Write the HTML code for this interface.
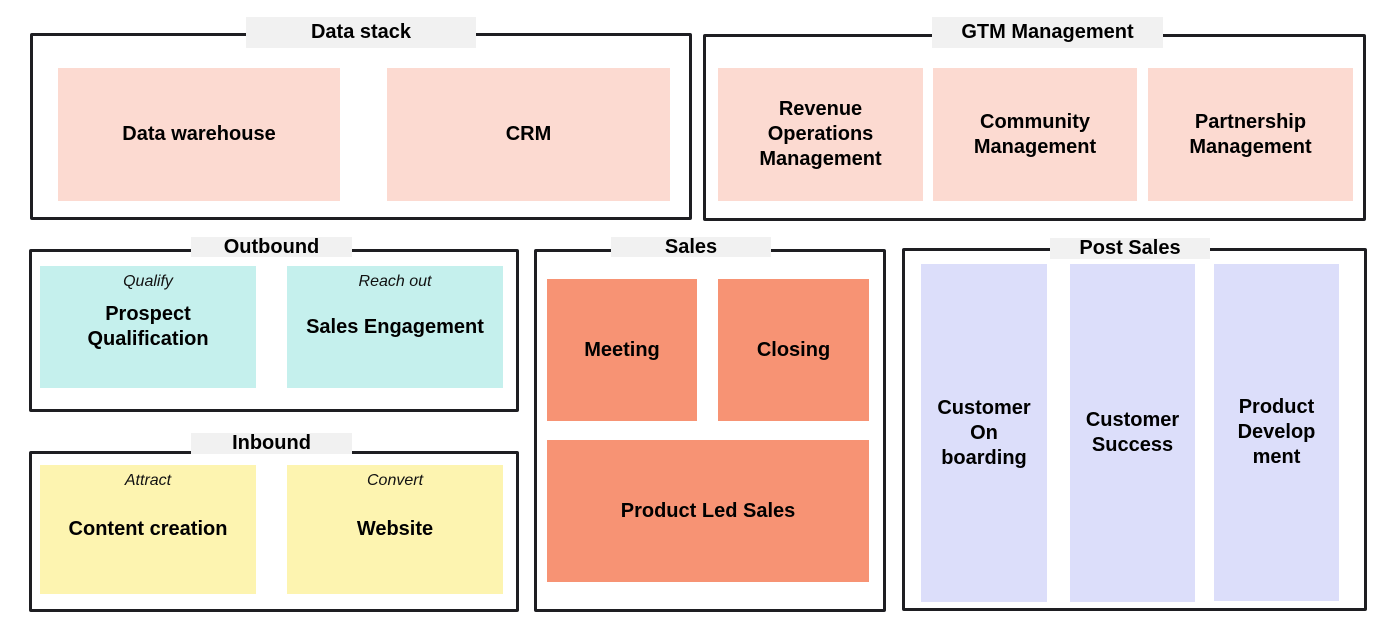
<!DOCTYPE html>
<html><head><meta charset="utf-8"><style>
body{margin:0;width:1400px;height:635px;background:#fff;position:relative;overflow:hidden;font-family:"Liberation Sans",Arial,sans-serif;}
.f{position:absolute;border:3px solid #1e1e22;border-radius:2px;box-sizing:border-box;}
.t{position:absolute;background:#f1f1f1;font-weight:bold;font-size:20px;display:flex;align-items:center;justify-content:center;color:#000;}
.b{position:absolute;display:flex;align-items:center;justify-content:center;text-align:center;font-weight:bold;font-size:20px;line-height:25px;color:#000;}
.s{position:absolute;left:0;right:0;top:3px;text-align:center;font-style:italic;font-weight:normal;font-size:16px;color:#111;}
.p{background:#fcdad1;}
.c{background:#c5f0ed;}
.y{background:#fdf4b0;}
.o{background:#f79374;}
.v{background:#dcdefa;}
</style></head><body>
<div class="f" style="left:30px;top:33px;width:662px;height:187px"></div>
<div class="t" style="left:246px;top:17px;width:230px;height:31px">Data stack</div>
<div class="b p" style="left:58px;top:68px;width:282px;height:133px">Data warehouse</div>
<div class="b p" style="left:387px;top:68px;width:283px;height:133px">CRM</div>

<div class="f" style="left:703px;top:34px;width:663px;height:187px"></div>
<div class="t" style="left:932px;top:17px;width:231px;height:31px">GTM Management</div>
<div class="b p" style="left:718px;top:68px;width:205px;height:133px">Revenue<br>Operations<br>Management</div>
<div class="b p" style="left:933px;top:68px;width:204px;height:133px">Community<br>Management</div>
<div class="b p" style="left:1148px;top:68px;width:205px;height:133px">Partnership<br>Management</div>

<div class="f" style="left:29px;top:249px;width:490px;height:163px"></div>
<div class="t" style="left:191px;top:237px;width:161px;height:20px">Outbound</div>
<div class="b c" style="left:40px;top:266px;width:216px;height:122px"><span class="s">Qualify</span>Prospect<br>Qualification</div>
<div class="b c" style="left:287px;top:266px;width:216px;height:122px"><span class="s">Reach out</span>Sales Engagement</div>

<div class="f" style="left:29px;top:451px;width:490px;height:161px"></div>
<div class="t" style="left:191px;top:433px;width:161px;height:21px">Inbound</div>
<div class="b y" style="left:40px;top:465px;width:216px;height:129px"><span class="s">Attract</span>Content creation</div>
<div class="b y" style="left:287px;top:465px;width:216px;height:129px"><span class="s">Convert</span>Website</div>

<div class="f" style="left:534px;top:249px;width:352px;height:363px"></div>
<div class="t" style="left:611px;top:237px;width:160px;height:20px">Sales</div>
<div class="b o" style="left:547px;top:279px;width:150px;height:142px">Meeting</div>
<div class="b o" style="left:718px;top:279px;width:151px;height:142px">Closing</div>
<div class="b o" style="left:547px;top:440px;width:322px;height:142px">Product Led Sales</div>

<div class="f" style="left:902px;top:248px;width:465px;height:363px"></div>
<div class="t" style="left:1050px;top:238px;width:160px;height:21px">Post Sales</div>
<div class="b v" style="left:921px;top:264px;width:126px;height:338px">Customer<br>On<br>boarding</div>
<div class="b v" style="left:1070px;top:264px;width:125px;height:338px">Customer<br>Success</div>
<div class="b v" style="left:1214px;top:264px;width:125px;height:337px">Product<br>Develop<br>ment</div>
</body></html>
